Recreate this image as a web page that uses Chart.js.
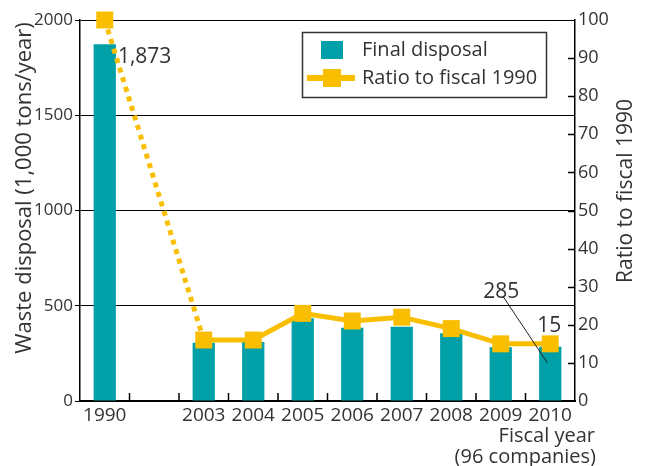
<!DOCTYPE html>
<html>
<head>
<meta charset="utf-8">
<title>Final disposal</title>
<script src="https://cdn.jsdelivr.net/npm/chart.js@4"></script>
<style>
  html, body { margin: 0; padding: 0; background: #fff; }
  #wrap { width: 648px; height: 466px; }
</style>
</head>
<body>
<div id="wrap"><canvas id="disposalChart" width="648" height="466"></canvas></div>
<script>
// Fiscal years (blank slot marks the break between 1990 and 2003)
var years = ['1990', '', '2003', '2004', '2005', '2006', '2007', '2008', '2009', '2010'];
// Final disposal, 1,000 tons/year
var disposal = [1873, null, 306, 310, 434, 385, 390, 355, 282, 285];
// Ratio to fiscal 1990 (%)
var ratio = [100, null, 16, 16, 23, 21, 22, 19, 15, 15];

var leftTicks = [0, 500, 1000, 1500, 2000];
var rightTicks = [0, 10, 20, 30, 40, 50, 60, 70, 80, 90, 100];

var FONT = "'Open Sans', 'Noto Sans', sans-serif";
var INK = '#333333';
var TEAL = '#00A0A9';
var YELLOW = '#F9BE00';

// first index after the break; the segment reaching it is dotted
var breakEnd = years.indexOf('2003');

// Titles, legend box, callouts and inward tick marks
var decorations = {
    id: 'decorations',
    afterDraw: function(chart) {
        var ctx = chart.ctx;
        var area = chart.chartArea;
        var x = chart.scales.x;
        var y1 = chart.scales.y1;
        ctx.save();

        // inward ticks on the category axis, between categories
        ctx.strokeStyle = '#000';
        ctx.lineWidth = 1.5;
        for (var i = 1; i < years.length; i++) {
            var bx = (x.getPixelForTick(i - 1) + x.getPixelForTick(i)) / 2;
            ctx.beginPath();
            ctx.moveTo(bx, area.bottom);
            ctx.lineTo(bx, area.bottom - 8);
            ctx.stroke();
        }
        // inward ticks on the ratio axis
        rightTicks.slice(1, -1).forEach(function(v) {
            var py = Math.round(y1.getPixelForValue(v)) + 0.5;
            ctx.beginPath();
            ctx.moveTo(area.right, py);
            ctx.lineTo(area.right - 7, py);
            ctx.stroke();
        });

        // axis titles
        ctx.fillStyle = INK;
        ctx.textAlign = 'center';
        ctx.textBaseline = 'alphabetic';
        ctx.save();
        ctx.font = '22px ' + FONT;
        ctx.translate(31, 188);
        ctx.rotate(-Math.PI / 2);
        ctx.fillText('Waste disposal (1,000 tons/year)', 0, 0);
        ctx.restore();
        ctx.save();
        ctx.font = '21px ' + FONT;
        ctx.translate(632, 191);
        ctx.rotate(-Math.PI / 2);
        ctx.fillText('Ratio to fiscal 1990', 0, 0);
        ctx.restore();

        ctx.font = '20px ' + FONT;
        ctx.textAlign = 'right';
        ctx.textBaseline = 'middle';
        ctx.fillText('Fiscal year', 595, 436);
        ctx.fillText('(96 companies)', 596, 457);

        // value callouts
        var bars = chart.getDatasetMeta(0).data;
        var pts = chart.getDatasetMeta(1).data;
        ctx.font = '21px ' + FONT;
        var b0 = bars[0];
        ctx.textAlign = 'left';
        ctx.fillText(disposal[0].toLocaleString('en-US'), b0.x + b0.width / 2 + 2, b0.y + 13);

        var last = disposal.length - 1;
        var bl = bars[last];
        ctx.textAlign = 'center';
        ctx.fillText(String(disposal[last]), bl.x - 49, bl.y - 55);
        ctx.strokeStyle = '#222';
        ctx.lineWidth = 1;
        ctx.beginPath();
        ctx.moveTo(bl.x - 47, bl.y - 50);
        ctx.lineTo(bl.x - 3, bl.y + 16);
        ctx.stroke();

        var pl = pts[last];
        ctx.fillText(String(ratio[last]), pl.x - 1, pl.y - 18);

        // legend
        var ds = chart.data.datasets;
        ctx.fillStyle = '#fff';
        ctx.fillRect(302, 32, 244, 65);
        ctx.strokeStyle = '#333';
        ctx.lineWidth = 1.5;
        ctx.strokeRect(302.5, 32.5, 244, 65);

        ctx.fillStyle = ds[0].backgroundColor;
        ctx.fillRect(321, 41, 22, 18);
        ctx.strokeStyle = ds[1].borderColor;
        ctx.lineWidth = 6;
        ctx.beginPath();
        ctx.moveTo(307, 78);
        ctx.lineTo(355, 78);
        ctx.stroke();
        ctx.fillStyle = ds[1].pointBackgroundColor;
        ctx.fillRect(323, 69, 18, 18);

        ctx.fillStyle = INK;
        ctx.font = '20px ' + FONT;
        ctx.textAlign = 'left';
        ctx.fillText(ds[0].label, 362, 50);
        ctx.fillText(ds[1].label, 362, 78);

        ctx.restore();
    }
};

var ctx = document.getElementById('disposalChart');
new Chart(ctx, {
    data: {
        labels: years,
        datasets: [{
            type: 'bar',
            label: 'Final disposal',
            data: disposal,
            backgroundColor: TEAL,
            barPercentage: 0.45,
            categoryPercentage: 1,
            yAxisID: 'y',
            order: 1
        }, {
            type: 'line',
            label: 'Ratio to fiscal 1990',
            data: ratio,
            borderColor: YELLOW,
            backgroundColor: YELLOW,
            pointBackgroundColor: YELLOW,
            borderWidth: 5,
            borderCapStyle: 'butt',
            tension: 0,
            spanGaps: true,
            pointStyle: 'rect',
            pointRadius: 12,
            pointBorderWidth: 0,
            clip: false,
            yAxisID: 'y1',
            order: 0,
            segment: {
                borderDash: function(c) {
                    return c.p1DataIndex <= breakEnd ? [5, 5] : undefined;
                }
            }
        }]
    },
    options: {
        responsive: false,
        animation: false,
        devicePixelRatio: 1,
        layout: { padding: { top: 20, left: 0, right: 0, bottom: 0 } },
        plugins: {
            legend: { display: false },
            tooltip: { enabled: false }
        },
        scales: {
            x: {
                offset: true,
                grid: { drawOnChartArea: false, drawTicks: false },
                border: { color: '#000', width: 2 },
                ticks: {
                    color: INK,
                    font: { family: FONT, size: 19 },
                    padding: 3,
                    autoSkip: false,
                    maxRotation: 0
                },
                afterFit: function(s) { s.height = 65; }
            },
            y: {
                position: 'left',
                min: leftTicks[0],
                max: leftTicks[leftTicks.length - 1],
                afterBuildTicks: function(s) {
                    s.ticks = leftTicks.map(function(v) { return { value: v }; });
                },
                grid: { color: '#000', lineWidth: 1, tickLength: 5 },
                border: { color: '#000', width: 1.5 },
                ticks: {
                    color: INK,
                    font: { family: FONT, size: 17 },
                    padding: 2,
                    callback: function(v) { return String(v); }
                },
                afterFit: function(s) { s.width = 80; }
            },
            y1: {
                position: 'right',
                min: rightTicks[0],
                max: rightTicks[rightTicks.length - 1],
                afterBuildTicks: function(s) {
                    s.ticks = rightTicks.map(function(v) { return { value: v }; });
                },
                grid: { drawOnChartArea: false, drawTicks: false },
                border: { color: '#000', width: 1.5 },
                ticks: {
                    color: INK,
                    font: { family: FONT, size: 18 },
                    padding: 3,
                    callback: function(v) { return String(v); }
                },
                afterFit: function(s) { s.width = 73; }
            }
        }
    },
    plugins: [decorations]
});
</script>
</body>
</html>
